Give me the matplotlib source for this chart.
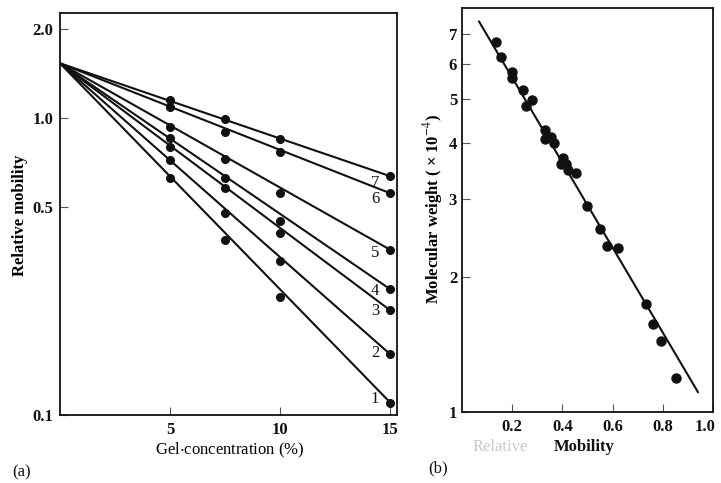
import numpy as np
import matplotlib
matplotlib.use("Agg")
import matplotlib.pyplot as plt
from matplotlib.ticker import FixedLocator, NullLocator, FixedFormatter
from matplotlib.transforms import ScaledTranslation

plt.rcParams['font.family'] = ['Liberation Serif', 'DejaVu Serif']
plt.rcParams['mathtext.fontset'] = 'stix'

# (a) relative mobility vs gel concentration, curves 1-7
gel_conc = [5, 7.5, 10, 15]
mob_1 = [0.63, 0.39, 0.25, 0.11]
mob_2 = [0.72, 0.48, 0.33, 0.16]
mob_3 = [0.80, 0.58, 0.41, 0.225]
mob_4 = [0.856, 0.63, 0.45, 0.265]
mob_5 = [0.93, 0.73, 0.56, 0.36]
mob_6 = [1.09, 0.90, 0.77, 0.558]
mob_7 = [1.15, 0.99, 0.85, 0.637]
curves = [mob_1, mob_2, mob_3, mob_4, mob_5, mob_6, mob_7]
curve_names = ['1', '2', '3', '4', '5', '6', '7']
mob_at_zero = 1.53   # all lines meet here at 0 % gel

# (b) molecular weight (x 10^-4) vs relative mobility
rel_mob = [0.135, 0.155, 0.199, 0.201, 0.241, 0.255, 0.277, 0.331, 0.331, 0.355,
           0.368, 0.401, 0.395, 0.415, 0.421, 0.455, 0.499, 0.548, 0.577, 0.621,
           0.732, 0.761, 0.792, 0.852]
mol_wt = [6.71, 6.21, 5.75, 5.58, 5.25, 4.82, 4.97, 4.28, 4.08, 4.12,
          3.99, 3.70, 3.59, 3.59, 3.48, 3.42, 2.89, 2.56, 2.35, 2.33,
          1.74, 1.57, 1.44, 1.19]
fit_mob = [0.068, 0.94]
fit_wt = [7.46, 1.108]

ink = '#111111'
fs = 12
fig = plt.figure(figsize=(7.21, 4.83), dpi=100)

# ---- panel (a)
ax1 = fig.add_axes([0.0832, 0.1408, 0.4674, 0.8323])
for vals, name in zip(curves, curve_names):
    ax1.plot([0, gel_conc[-1]], [mob_at_zero, vals[-1]], color=ink, lw=1.5)
    ax1.plot(gel_conc, vals, 'o', color=ink, ms=5.5)
    # label just left of the last point, a little under the line
    xl = 14.3
    yl = np.exp(np.interp(xl, [0, gel_conc[-1]], np.log([mob_at_zero, vals[-1]])))
    ax1.annotate(name, (xl, yl), xytext=(0, -3), textcoords='offset points',
                 ha='center', va='top', fontsize=fs, color=ink)
ax1.set_yscale('log')
ax1.set_xlim(0, 15.3)
ax1.set_ylim(0.1, 2.26)
ax1.xaxis.set_major_locator(FixedLocator([5, 10, 15]))
ax1.yaxis.set_major_locator(FixedLocator([0.1, 0.5, 1.0, 2.0]))
ax1.yaxis.set_major_formatter(FixedFormatter(['0.1', '0.5', '1.0', '2.0']))
ax1.yaxis.set_minor_locator(NullLocator())
ax1.set_xlabel('Gel$\\cdot$concentration (%)', fontsize=fs, va='center')
ax1.xaxis.set_label_coords(0.504, -0.087)
ax1.set_ylabel('Relative mobility', fontsize=fs, fontweight='bold', va='center')
ax1.yaxis.set_label_coords(-0.119, 0.4975)

# ---- panel (b)
ax2 = fig.add_axes([0.6408, 0.147, 0.3481, 0.8364])
ax2.plot(fit_mob, fit_wt, color=ink, lw=1.5)
ax2.plot(rel_mob, mol_wt, 'o', color=ink, ms=6.5)
ax2.set_yscale('log')
ax2.set_xlim(0, 1.0)
ax2.set_ylim(1, 8)
ax2.xaxis.set_major_locator(FixedLocator([0.2, 0.4, 0.6, 0.8, 1.0]))
ax2.xaxis.set_major_formatter(FixedFormatter(['0.2', '0.4', '0.6', '0.8', '1.0']))
ax2.yaxis.set_major_locator(FixedLocator([1, 2, 3, 4, 5, 6, 7]))
ax2.yaxis.set_major_formatter(FixedFormatter(['1', '2', '3', '4', '5', '6', '7']))
ax2.yaxis.set_minor_locator(NullLocator())
ax2.set_ylabel('Molecular weight ( \u00d7 10$^{-4}$)', fontsize=fs,
               fontweight='bold', va='center')
ax2.yaxis.set_label_coords(-0.116, 0.502)
ax2.text(0.151, -0.087, 'Relative', transform=ax2.transAxes, ha='center',
         va='center', fontsize=fs, color='#c8c8c8')
ax2.text(0.486, -0.087, 'Mobility', transform=ax2.transAxes, ha='center',
         va='center', fontsize=fs, fontweight='bold', color=ink)

for ax, ypad in [(ax1, 5), (ax2, 3.5)]:
    for sp in ax.spines.values():
        sp.set_linewidth(1.3)
        sp.set_color(ink)
    ax.tick_params(axis='both', direction='in', length=6, width=0.8,
                   color='#555555', labelsize=fs, labelcolor=ink)
    ax.tick_params(axis='y', pad=ypad)
    ax.tick_params(axis='x', pad=5)
    for lab in ax.get_xticklabels() + ax.get_yticklabels():
        lab.set_fontweight('bold')

# keep the "1.0" at the right corner inside the picture
last = ax2.get_xticklabels()[-1]
last.set_transform(last.get_transform() + ScaledTranslation(-6 / 72, 0, fig.dpi_scale_trans))

fig.text(12 / 721, 1 - 472 / 483, '(a)', fontsize=fs, va='center', color=ink)
fig.text(428 / 721, 1 - 468 / 483, '(b)', fontsize=fs, va='center', color=ink)

fig.savefig('out.png', dpi=100, facecolor='white')
